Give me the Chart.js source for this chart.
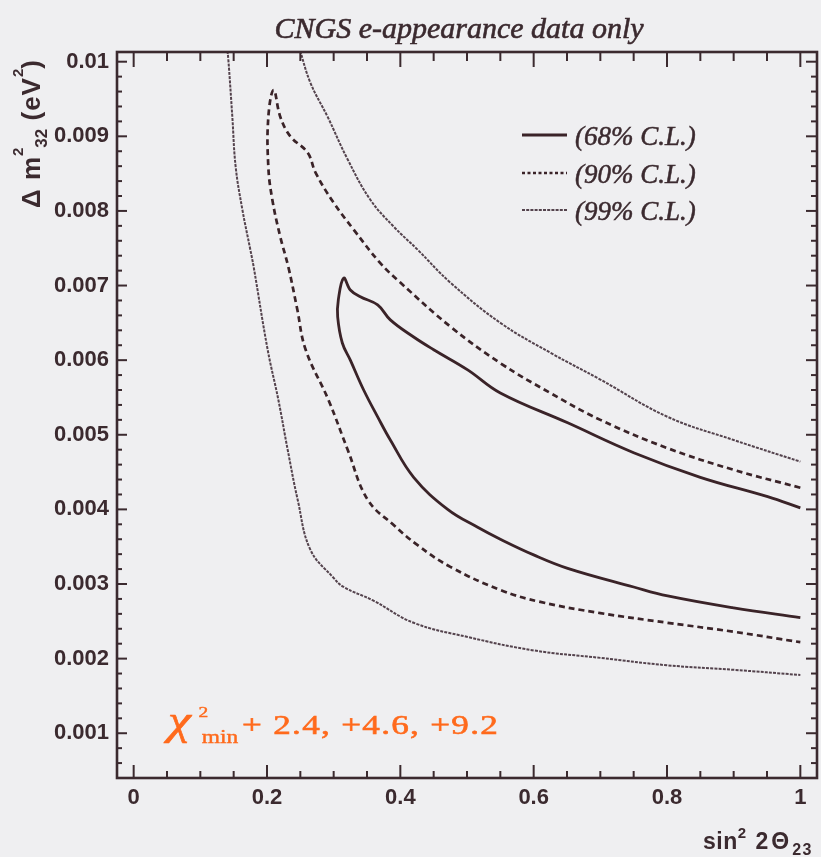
<!DOCTYPE html>
<html>
<head>
<meta charset="utf-8">
<script src="https://cdn.jsdelivr.net/npm/chart.js@4.4.1/dist/chart.umd.min.js"></script>
<style>
  html, body { margin: 0; padding: 0; background: #efeff1; }
  #wrap { width: 821px; height: 857px; position: relative; }
</style>
</head>
<body>
<div id="wrap"><canvas id="c"></canvas></div>
<script>
// Allowed regions in the (sin^2 2θ23, Δm²32) plane from CNGS νe appearance.

// 68% C.L. contour (closed on the right edge): upper branch right→left, then lower branch left→right
const cl68X = [1.000, 0.951, 0.850, 0.750, 0.651, 0.550, 0.501, 0.450, 0.420, 0.385, 0.366, 0.340, 0.325, 0.315,
               0.307, 0.306, 0.313, 0.325, 0.345, 0.366, 0.385, 0.420, 0.471, 0.516, 0.550, 0.600, 0.651, 0.750, 0.801, 0.900, 1.000];
const cl68Y = [0.00402, 0.00417, 0.00443, 0.00476, 0.00516, 0.00556, 0.00587, 0.00614, 0.00631, 0.00654, 0.00674, 0.00685, 0.00694, 0.00710,
               0.00681, 0.00658, 0.00623, 0.00600, 0.00560, 0.00524, 0.00493, 0.00443, 0.00400, 0.00376, 0.00360, 0.00339, 0.00321, 0.00296, 0.00284, 0.00268, 0.00255];

// 90% C.L. contour
const cl90X = [1.000, 0.900, 0.801, 0.700, 0.625, 0.550, 0.475, 0.400, 0.370, 0.330, 0.300, 0.273, 0.261, 0.235, 0.220, 0.210,
               0.202, 0.202, 0.208, 0.220, 0.232, 0.245, 0.258, 0.292, 0.321, 0.351, 0.390, 0.426, 0.475, 0.550, 0.610, 0.700, 0.801, 0.900, 1.000];
const cl90Y = [0.00429, 0.00453, 0.00482, 0.00520, 0.00556, 0.00596, 0.00645, 0.00704, 0.00730, 0.00775, 0.00811, 0.00851, 0.00878, 0.00900, 0.00926, 0.00962,
               0.00926, 0.00859, 0.00815, 0.00765, 0.00725, 0.00670, 0.00614, 0.00547, 0.00480, 0.00413, 0.00379, 0.00352, 0.00323, 0.00292, 0.00276, 0.00261, 0.00248, 0.00236, 0.00222];

// 99% C.L. contour: left/lower branch and upper branch (both leave through the top of the frame)
const cl99LowX = [0.140, 0.142, 0.148, 0.153, 0.163, 0.175, 0.180, 0.201, 0.217, 0.231, 0.246, 0.265, 0.299, 0.315, 0.359,
                  0.420, 0.501, 0.600, 0.700, 0.801, 0.900, 1.000];
const cl99LowY = [0.01020, 0.01003, 0.00926, 0.00859, 0.00802, 0.00748, 0.00725, 0.00614, 0.00547, 0.00480, 0.00413, 0.00346, 0.00309, 0.00296, 0.00278,
                  0.00248, 0.00229, 0.00211, 0.00201, 0.00191, 0.00185, 0.00178];
const cl99UpX = [0.248, 0.265, 0.291, 0.321, 0.355, 0.390, 0.426, 0.475, 0.550, 0.625, 0.700, 0.801, 0.900, 1.000];
const cl99UpY = [0.01020, 0.00972, 0.00926, 0.00869, 0.00815, 0.00779, 0.00748, 0.00704, 0.00650, 0.00610, 0.00574, 0.00524, 0.00493, 0.00464];

const seriesLabels = ['(68% C.L.)', '(90% C.L.)', '(99% C.L.)'];

const xTickValues = [0, 0.2, 0.4, 0.6, 0.8, 1];
const xTickLabels = ['0', '0.2', '0.4', '0.6', '0.8', '1'];
const yTickValues = [0.001, 0.002, 0.003, 0.004, 0.005, 0.006, 0.007, 0.008, 0.009, 0.01];
const yTickLabels = ['0.001', '0.002', '0.003', '0.004', '0.005', '0.006', '0.007', '0.008', '0.009', '0.01'];

const titleText = 'CNGS e-appearance data only';
const chiText = ['χ', '2', 'min', '+ 2.4, +4.6, +9.2'];

const BG = '#efeff1';
const INK = '#3b2a2f';
const LINE = '#3a2328';
const LINE99 = '#54434d';
const ORANGE = '#ff6a1c';
const SANS = '"Liberation Sans", Arial, Helvetica, sans-serif';
const SERIF = '"Liberation Serif", "Times New Roman", Times, serif';

const pts = (xs, ys) => xs.map((v, i) => ({ x: v, y: ys[i] }));

const lineStyles = [
  { borderColor: LINE, borderWidth: 2.8, borderDash: [] },
  { borderColor: LINE, borderWidth: 2.7, borderDash: [6, 4] },
  { borderColor: LINE99, borderWidth: 2.0, borderDash: [3, 1.2] }
];

// text drawn twice (fill + thin stroke) so the serif lettering has some weight
function heavyText(ctx, text, x, y, w) {
  ctx.fillText(text, x, y);
  ctx.lineWidth = w;
  ctx.strokeStyle = ctx.fillStyle;
  ctx.strokeText(text, x, y);
}

function drawRun(ctx, parts, x0, y0) {
  let x = x0;
  for (const p of parts) {
    ctx.font = p.font;
    ctx.letterSpacing = p.ls || '0px';
    ctx.fillText(p.text, x, y0 + (p.dy || 0));
    x += ctx.measureText(p.text).width + (p.gap || 0);
  }
  ctx.letterSpacing = '0px';
}

const decorations = {
  id: 'decorations',
  beforeDraw(chart) {
    const { ctx, width, height } = chart;
    ctx.save();
    ctx.fillStyle = BG;
    ctx.fillRect(0, 0, width, height);
    ctx.restore();
  },
  afterDraw(chart) {
    const { ctx, chartArea: a, scales } = chart;
    const sx = scales.x, sy = scales.y;
    ctx.save();
    ctx.strokeStyle = INK;
    ctx.lineWidth = 2;
    ctx.lineCap = 'butt';
    const seg = (x1, y1, x2, y2) => { ctx.beginPath(); ctx.moveTo(x1, y1); ctx.lineTo(x2, y2); ctx.stroke(); };
    const near = (arr, v) => arr.some(t => Math.abs(t - v) < 1e-9);

    // inward tick marks on all four sides
    for (let i = 0; i <= 20; i++) {
      const v = i * 0.05;
      const px = sx.getPixelForValue(v);
      const major = near(xTickValues, v);
      seg(px, a.bottom, px, a.bottom - (major ? 13 : 7));
      seg(px, a.top, px, a.top + (major ? 15 : 9));
    }
    for (let i = 2; i <= 50; i++) {
      const v = i * 0.0002;
      const py = sy.getPixelForValue(v);
      const major = near(yTickValues, v);
      seg(a.left, py, a.left + (major ? 10 : 5), py);
      seg(a.right, py, a.right - (major ? 11 : 6), py);
    }

    // frame
    ctx.lineWidth = 2.6;
    ctx.strokeRect(a.left, a.top, a.right - a.left, a.bottom - a.top);

    // title
    ctx.fillStyle = INK;
    ctx.font = 'italic 30px ' + SERIF;
    ctx.textAlign = 'center';
    ctx.textBaseline = 'alphabetic';
    heavyText(ctx, titleText, 459, 38, 0.6);

    // legend
    ctx.textAlign = 'left';
    const rows = [135, 173, 210];
    chart.data.datasets.slice(0, 3).forEach((ds, i) => {
      ctx.strokeStyle = ds.borderColor;
      ctx.lineWidth = ds.borderWidth;
      ctx.setLineDash(i === 1 ? [3, 2.5] : ds.borderDash);
      seg(522, rows[i], 567, rows[i]);
      ctx.setLineDash([]);
      ctx.fillStyle = INK;
      ctx.font = 'italic 27px ' + SERIF;
      heavyText(ctx, ds.label, 575, rows[i] + 10, 0.5);
    });

    // x axis title: sin^2 2Θ_23
    ctx.fillStyle = INK;
    drawRun(ctx, [
      { text: 'sin', font: 'bold 23px ' + SANS, ls: '0.5px' },
      { text: '2', font: 'bold 15px ' + SANS, dy: -11 },
      { text: ' 2Θ', font: 'bold 23px ' + SANS, ls: '3px' },
      { text: '23', font: 'bold 16px ' + SANS, dy: 6, ls: '1.5px' }
    ], 703, 849);

    // y axis title: Δ m^2_32 (eV^2), reading upwards
    ctx.save();
    ctx.translate(40, 208);
    ctx.rotate(-Math.PI / 2);
    drawRun(ctx, [
      { text: 'Δ m', font: 'bold 26px ' + SANS, ls: '1px' },
      { text: '2', font: 'bold 15px ' + SANS, dy: -17 },
      { text: '32', font: 'bold 17px ' + SANS, dy: 7 },
      { text: ' (eV', font: 'bold 26px ' + SANS, ls: '1px' },
      { text: '2', font: 'bold 15px ' + SANS, dy: -17 },
      { text: ')', font: 'bold 26px ' + SANS }
    ], 0, 0);
    ctx.restore();

    // Δχ² levels of the three contours (wide serif lettering)
    ctx.save();
    ctx.translate(168, 734);
    ctx.scale(1.3, 1);
    ctx.fillStyle = ORANGE;
    ctx.font = 'italic 40px ' + SERIF;
    heavyText(ctx, chiText[0], 0, 0, 0.6);
    ctx.font = '15px ' + SERIF;
    heavyText(ctx, chiText[1], 23.5, -17, 0.4);
    ctx.font = '18px ' + SERIF;
    heavyText(ctx, chiText[2], 26, 9, 0.4);
    ctx.font = '27px ' + SERIF;
    ctx.letterSpacing = '1px';
    heavyText(ctx, chiText[3], 57, 0, 0.6);
    ctx.restore();

    ctx.restore();
  }
};

const ctxEl = document.getElementById('c');
new Chart(ctxEl, {
  type: 'scatter',
  data: {
    datasets: [
      { label: seriesLabels[0], data: pts(cl68X, cl68Y), ...lineStyles[0] },
      { label: seriesLabels[1], data: pts(cl90X, cl90Y), ...lineStyles[1] },
      { label: seriesLabels[2], data: pts(cl99LowX, cl99LowY), ...lineStyles[2] },
      { label: seriesLabels[2], data: pts(cl99UpX, cl99UpY), ...lineStyles[2] }
    ].map(ds => Object.assign(ds, {
      showLine: true, pointRadius: 0, pointHoverRadius: 0, fill: false, tension: 0.4
    }))
  },
  options: {
    responsive: true,
    maintainAspectRatio: false,
    animation: false,
    devicePixelRatio: 1,
    events: [],
    layout: { padding: { top: 52, right: 4, left: 0, bottom: 0 } },
    plugins: { legend: { display: false }, title: { display: false }, tooltip: { enabled: false } },
    scales: {
      x: {
        type: 'linear',
        min: -0.025, max: 1.025,
        grid: { display: false, drawTicks: false },
        border: { display: false },
        afterBuildTicks: s => { s.ticks = xTickValues.map(v => ({ value: v })); },
        afterFit: s => { s.height = 79; },
        ticks: {
          includeBounds: false,
          autoSkip: false,
          maxRotation: 0,
          padding: 7,
          color: INK,
          font: { family: SANS, size: 22, weight: 'bold' },
          callback: (v, i) => xTickLabels[i]
        }
      },
      y: {
        type: 'linear',
        min: 0.0004, max: 0.01013,
        grid: { display: false, drawTicks: false },
        border: { display: false },
        afterBuildTicks: s => { s.ticks = yTickValues.map(v => ({ value: v })); },
        afterFit: s => { s.width = 117; },
        ticks: {
          includeBounds: false,
          autoSkip: false,
          padding: 8,
          color: INK,
          font: { family: SANS, size: 22, weight: 'bold' },
          callback: (v, i) => yTickLabels[i]
        }
      }
    }
  },
  plugins: [decorations]
});
</script>
</body>
</html>
